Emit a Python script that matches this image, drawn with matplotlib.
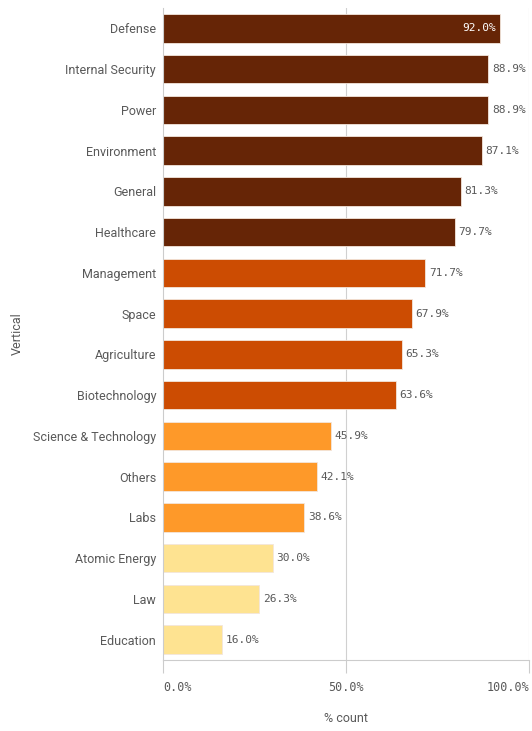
import matplotlib
matplotlib.use("Agg")
import matplotlib.pyplot as plt

categories = ["Defense", "Internal Security", "Power", "Environment", "General",
              "Healthcare", "Management", "Space", "Agriculture", "Biotechnology",
              "Science & Technology", "Others", "Labs", "Atomic Energy", "Law",
              "Education"]
values = [92.0, 88.9, 88.9, 87.1, 81.3, 79.7, 71.7, 67.9, 65.3, 63.6,
          45.9, 42.1, 38.6, 30.0, 26.3, 16.0]
group_colors = ["#662506"] * 6 + ["#cc4c02"] * 4 + ["#fe9929"] * 3 + ["#fee391"] * 3
xticks = [0, 50, 100]
xtick_labels = ["0.0%", "50.0%", "100.0%"]

label_font = ["Roboto", "DejaVu Sans"]
num_font = ["DejaVu Sans Mono"]
grey = "#595959"

fig = plt.figure(figsize=(5.32, 7.31), dpi=100)
ax = fig.add_axes([163 / 532, 1 - 660 / 731, (529 - 163) / 532, (660 - 8) / 731])

y = list(range(len(categories)))
ax.barh(y, values, height=0.7, color=group_colors, edgecolor="#f3e6dc",
        linewidth=0.6, zorder=2)

ax.set_xlim(0, 100)
ax.set_ylim(len(categories) - 0.5, -0.5)

for i, v in enumerate(values):
    txt = f"{v:.1f}%"
    if v >= 90:
        ax.text(v - 1, i, txt, ha="right", va="center", color="white",
                fontsize=8, family=num_font, zorder=3)
    else:
        ax.text(v + 1.0, i, txt, ha="left", va="center", color=grey,
                fontsize=8, family=num_font, zorder=3)

ax.set_yticks(y)
ax.set_yticklabels(categories, family=label_font, fontsize=9, color=grey)
ax.tick_params(axis="y", length=0, pad=5)

ax.set_xticks(xticks)
ax.set_xticklabels(xtick_labels, family=num_font, fontsize=8.5, color=grey)
ax.tick_params(axis="x", length=9, width=0.8, color="#cccccc", pad=6)
for lab, ha in zip(ax.get_xticklabels(), ["left", "center", "right"]):
    lab.set_ha(ha)

ax.axvline(50, color="#d0d0d0", linewidth=0.8, zorder=1)
ax.axvline(100, color="#d0d0d0", linewidth=0.8, zorder=1)

for side in ["top", "right"]:
    ax.spines[side].set_visible(False)
for side in ["left", "bottom"]:
    ax.spines[side].set_color("#cccccc")
    ax.spines[side].set_linewidth(0.8)

ax.set_xlabel("% count", family=label_font, fontsize=9, color=grey, labelpad=13)
ax.set_ylabel("Vertical", family=label_font, fontsize=9, color=grey)
ax.yaxis.set_label_coords(-(163 - 24) / 366, 0.5)

fig.savefig("out.png", dpi=100)
